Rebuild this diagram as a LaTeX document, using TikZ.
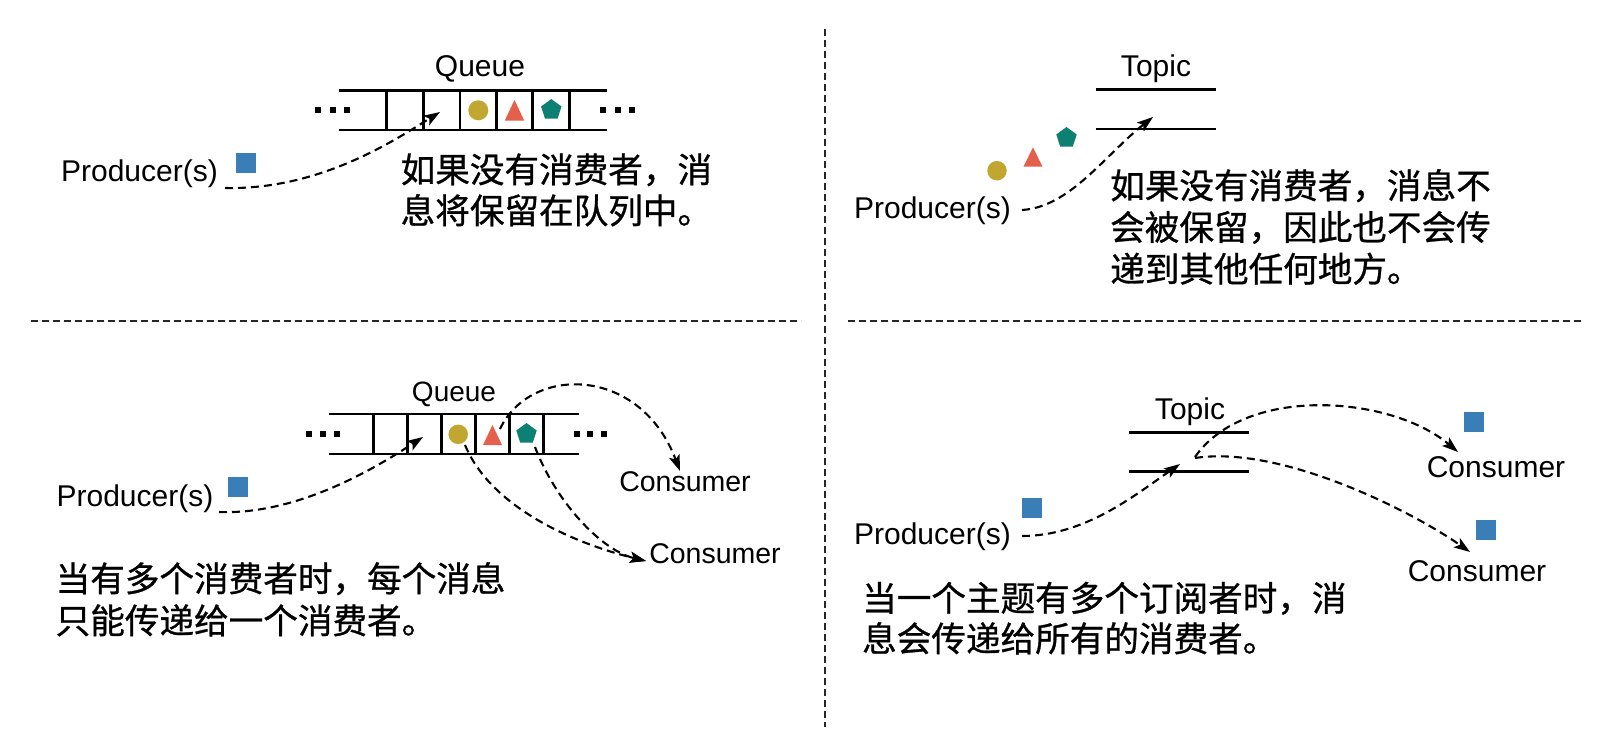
\documentclass[tikz,border=0pt]{standalone}
\usepackage{fontspec}
\setmainfont{Liberation Sans}
\newfontfamily\cjk[FakeBold=0.8]{Noto Sans CJK SC}
\usetikzlibrary{arrows.meta,shapes.geometric}
\definecolor{qyellow}{RGB}{193,166,48}
\definecolor{qred}{RGB}{228,96,76}
\definecolor{qteal}{RGB}{12,128,114}
\definecolor{qblue}{RGB}{58,126,184}
\tikzset{
  conn/.style={line width=2.1pt, dash pattern=on 8pt off 5pt, -{Stealth[length=16pt,width=11pt,inset=3.5pt]}},
  qline/.style={line width=2.6pt},
  divline/.style={line width=2pt, dash pattern=on 7pt off 4pt, black!85},
  lat/.style={inner sep=0pt, anchor=base, font=\fontsize{30}{36}\selectfont},
  zh/.style={inner sep=0pt, anchor=base west, font=\cjk\fontsize{34.6}{41}\selectfont},
  sq/.style={fill=qblue, minimum size=20pt, inner sep=0pt},
  dotc/.style={circle, fill=qyellow, minimum size=20pt, inner sep=0pt},
  pent/.style={regular polygon, regular polygon sides=5, fill=qteal, minimum size=21.5pt, inner sep=0pt},
  qdot/.style={fill=black, minimum size=6pt, inner sep=0pt}
}
\begin{document}
\begin{tikzpicture}[x=1pt,y=-1pt]
\useasboundingbox (0,0) rectangle (1612,740);
\fill[white] (0,0) rectangle (1612,740);

% ---------- dividers ----------
\coordinate (vtop) at (824.5,29);
\coordinate (vbot) at (824.5,727);
\coordinate (hl1) at (31,320.8);
\coordinate (hl2) at (801,320.8);
\coordinate (hr1) at (848,320.8);
\coordinate (hr2) at (1583,320.8);
\draw[divline] (vtop) -- (vbot);
\draw[divline] (hl1) -- (hl2);
\draw[divline] (hr1) -- (hr2);

% ================= top-left =================
\node[lat] (tlq) at (480,76.7) {Queue};
\draw[qline] (339,90.7) -- (607,90.7);
\draw[qline] (339,130) -- (607,130);
\foreach \x in {386.7,423.3,460,496.7,532.7,569.3} \draw[qline] (\x,90.7) -- (\x,130);
\foreach \x/\n in {318.3/a,333.3/b,346.7/c} \node[qdot] (tll\n) at (\x,110) {};
\foreach \x/\n in {603.3/a,618.3/b,631.7/c} \node[qdot] (tlr\n) at (\x,110) {};
\node[dotc] (tlcirc) at (478.3,110.3) {};
\fill[qred] (504.7,120.7) -- (524.3,120.7) -- (514.5,100) -- cycle;
\coordinate (tltri) at (514.5,110.3);
\node[pent] (tlpent) at (551.3,109.8) {};
\node[lat, anchor=base east] (tlprod) at (218,181.7) {Producer(s)};
\node[sq] (tlsq) at (245.5,163) {};
\coordinate (tlstart) at (225,188);
\coordinate (tltip) at (440,112);
\draw[conn] (tlstart) .. controls (320,190) and (395,140) .. (tltip);
\node[zh] (tlt1) at (400.5,182.5) {如果没有消费者，消};
\node[zh] (tlt2) at (400.5,223.5) {息将保留在队列中。};

% ================= top-right =================
\node[lat] (trtopic) at (1156,76) {Topic};
\draw[qline] (1095.7,89.3) -- (1215.7,89.3);
\draw[qline] (1095.7,129) -- (1215.7,129);
\node[dotc, minimum size=19.5pt] (trcirc) at (997,170.7) {};
\fill[qred] (1023.5,166.7) -- (1042.5,166.7) -- (1033,147.3) -- cycle;
\coordinate (trtri) at (1033,157);
\node[pent] (trpent) at (1066.5,137.8) {};
\node[lat, anchor=base east] (trprod) at (1011,218) {Producer(s)};
\coordinate (trstart) at (1022,210);
\coordinate (trtip) at (1153,117);
\draw[conn] (trstart) .. controls (1070,207) and (1105,155) .. (trtip);
\node[zh] (trt1) at (1110,198.5) {如果没有消费者，消息不};
\node[zh] (trt2) at (1110,240.2) {会被保留，因此也不会传};
\node[zh] (trt3) at (1110,281.9) {递到其他任何地方。};

% ================= bottom-left =================
\node[lat, font=\fontsize{28}{34}\selectfont] (blq) at (454,401.7) {Queue};
\draw[qline] (329,414) -- (579,414);
\draw[qline] (329,454) -- (579,454);
\foreach \x in {373.3,407.7,441.7,475.7,509.7,543.3} \draw[qline] (\x,414) -- (\x,454);
\foreach \x/\n in {308.5/a,322.5/b,336.5/c} \node[qdot] (bll\n) at (\x,434.3) {};
\foreach \x/\n in {576.5/a,590/b,603.5/c} \node[qdot] (blr\n) at (\x,434.3) {};
\node[dotc, minimum size=19.5pt] (blcirc) at (458.2,434.3) {};
\fill[qred] (483,445) -- (502,445) -- (492.5,425) -- cycle;
\coordinate (bltri) at (492.5,435);
\node[pent] (blpent) at (526.5,433.8) {};
\node[lat, anchor=base east] (blprod) at (213.5,506.7) {Producer(s)};
\node[sq] (blsq) at (238,487) {};
\node[lat, font=\fontsize{28.5}{34}\selectfont] (blc1) at (685,491.7) {Consumer};
\node[lat, font=\fontsize{28.5}{34}\selectfont] (blc2) at (715,563.3) {Consumer};
\coordinate (blstart) at (219,512);
\coordinate (bltip) at (423,437);
\draw[conn] (blstart) .. controls (300,515) and (380,465) .. (bltip);
\coordinate (bls1) at (500,429);
\coordinate (blt1) at (680,471);
\draw[conn] (bls1) .. controls (530,365) and (640,365) .. (blt1);
\coordinate (bls2) at (465,445);
\coordinate (blt2) at (646,561);
\draw[conn] (bls2) .. controls (492,510) and (580,545) .. (blt2);
\coordinate (bls3) at (535,447);
\draw[conn] (bls3) .. controls (555,500) and (600,550) .. (blt2);
\node[zh] (blt1t) at (55.5,591.5) {当有多个消费者时，每个消息};
\node[zh] (blt2t) at (55.5,633.5) {只能传递给一个消费者。};

% ================= bottom-right =================
\node[lat] (brtopic) at (1190,419.3) {Topic};
\draw[qline] (1129,432.7) -- (1249.3,432.7);
\draw[qline] (1129,471.7) -- (1249.3,471.7);
\node[lat, anchor=base east] (brprod) at (1011,544) {Producer(s)};
\node[sq] (brsq) at (1032,508) {};
\node[sq] (brsq1) at (1474,422) {};
\node[sq] (brsq2) at (1486,529.5) {};
\node[lat] (brc1) at (1496,477.3) {Consumer};
\node[lat] (brc2) at (1477,581.7) {Consumer};
\coordinate (brstart) at (1022,536);
\coordinate (brtip) at (1180,464);
\draw[conn] (brstart) .. controls (1085,536) and (1135,495) .. (brtip);
\coordinate (brs1) at (1195,457);
\coordinate (brt1) at (1458,452);
\draw[conn] (brs1) .. controls (1245,385) and (1390,395) .. (brt1);
\coordinate (brs2) at (1195,458);
\coordinate (brt2) at (1470,552);
\draw[conn] (brs2) .. controls (1280,445) and (1410,510) .. (brt2);
\node[zh] (brt1t) at (862,611) {当一个主题有多个订阅者时，消};
\node[zh] (brt2t) at (862,651.5) {息会传递给所有的消费者。};
\end{tikzpicture}
\end{document}
